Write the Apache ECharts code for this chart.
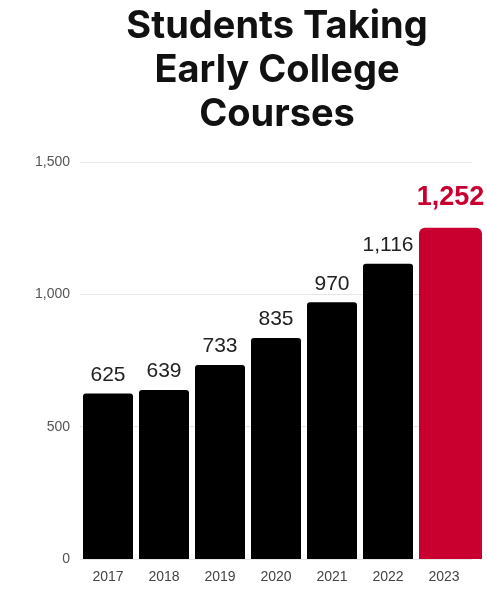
<!DOCTYPE html>
<html><head><meta charset="utf-8">
<script src="https://cdn.jsdelivr.net/npm/echarts@6/dist/echarts.min.js"></script>
<style>html,body{margin:0;padding:0;background:#fff}#c{width:487px;height:592px}</style>
</head><body><div id="c"></div>
<script>
const years = ['2017','2018','2019','2020','2021','2022','2023'];
const students = [625, 639, 733, 835, 970, 1116, 1252];
const yTicks = [0, 500, 1000, 1500];
const highlightYear = '2023';

const fmt = v => Number(v).toLocaleString('en-US');
const hiIdx = years.indexOf(highlightYear);
const blackData = students.map((v, i) => i === hiIdx ? '-' : v);
const redData = students.map((v, i) => i === hiIdx ? [i, v] : null).filter(d => d);
const RED = '#C9002F';

const chart = echarts.init(document.getElementById('c'));
chart.setOption({
  animation: false,
  title: {
    text: 'Students Taking\nEarly College\nCourses',
    left: 272, top: 0, textAlign: 'center',
    textStyle: { fontFamily: 'Inter', fontWeight: 'bold', fontSize: 38, lineHeight: 44, color: '#111' }
  },
  grid: { left: 80, right: 15, top: 162, bottom: 33 },
  xAxis: {
    type: 'category', data: years,
    axisLine: { show: false }, axisTick: { show: false },
    axisLabel: { color: '#444', fontSize: 14, fontFamily: 'Liberation Sans', margin: 11 }
  },
  yAxis: {
    type: 'value', min: yTicks[0], max: yTicks[yTicks.length - 1], interval: 500,
    axisLabel: { color: '#555', fontSize: 14, fontFamily: 'Liberation Sans', margin: 10, formatter: v => fmt(v) },
    splitLine: { lineStyle: { color: '#e6e6e6', width: 1 } },
    axisLine: { show: false }, axisTick: { show: false }
  },
  series: [
    {
      type: 'bar', data: blackData, barWidth: 50,
      itemStyle: { color: '#000', borderRadius: [3, 3, 0, 0] },
      label: { show: true, position: 'top', distance: 8, color: '#222', fontSize: 21,
        fontFamily: 'Liberation Sans', formatter: p => fmt(p.value) }
    },
    {
      type: 'custom', data: redData,
      renderItem: function (params, api) {
        const top = api.coord([api.value(0), api.value(1)]);
        const base = api.coord([api.value(0), 0]);
        const x0 = top[0] - 25, x1 = top[0] + 38;
        return {
          type: 'group',
          children: [
            { type: 'rect', shape: { x: x0, y: top[1], width: x1 - x0, height: base[1] - top[1], r: [6, 6, 0, 0] },
              style: { fill: RED } },
            { type: 'text', style: { text: fmt(api.value(1)), x: (x0 + x1) / 2, y: top[1] - 17,
                textAlign: 'center', textVerticalAlign: 'bottom', fill: RED,
                font: 'bold 27px "Liberation Sans"' } }
          ]
        };
      }
    }
  ]
});
</script></body></html>
